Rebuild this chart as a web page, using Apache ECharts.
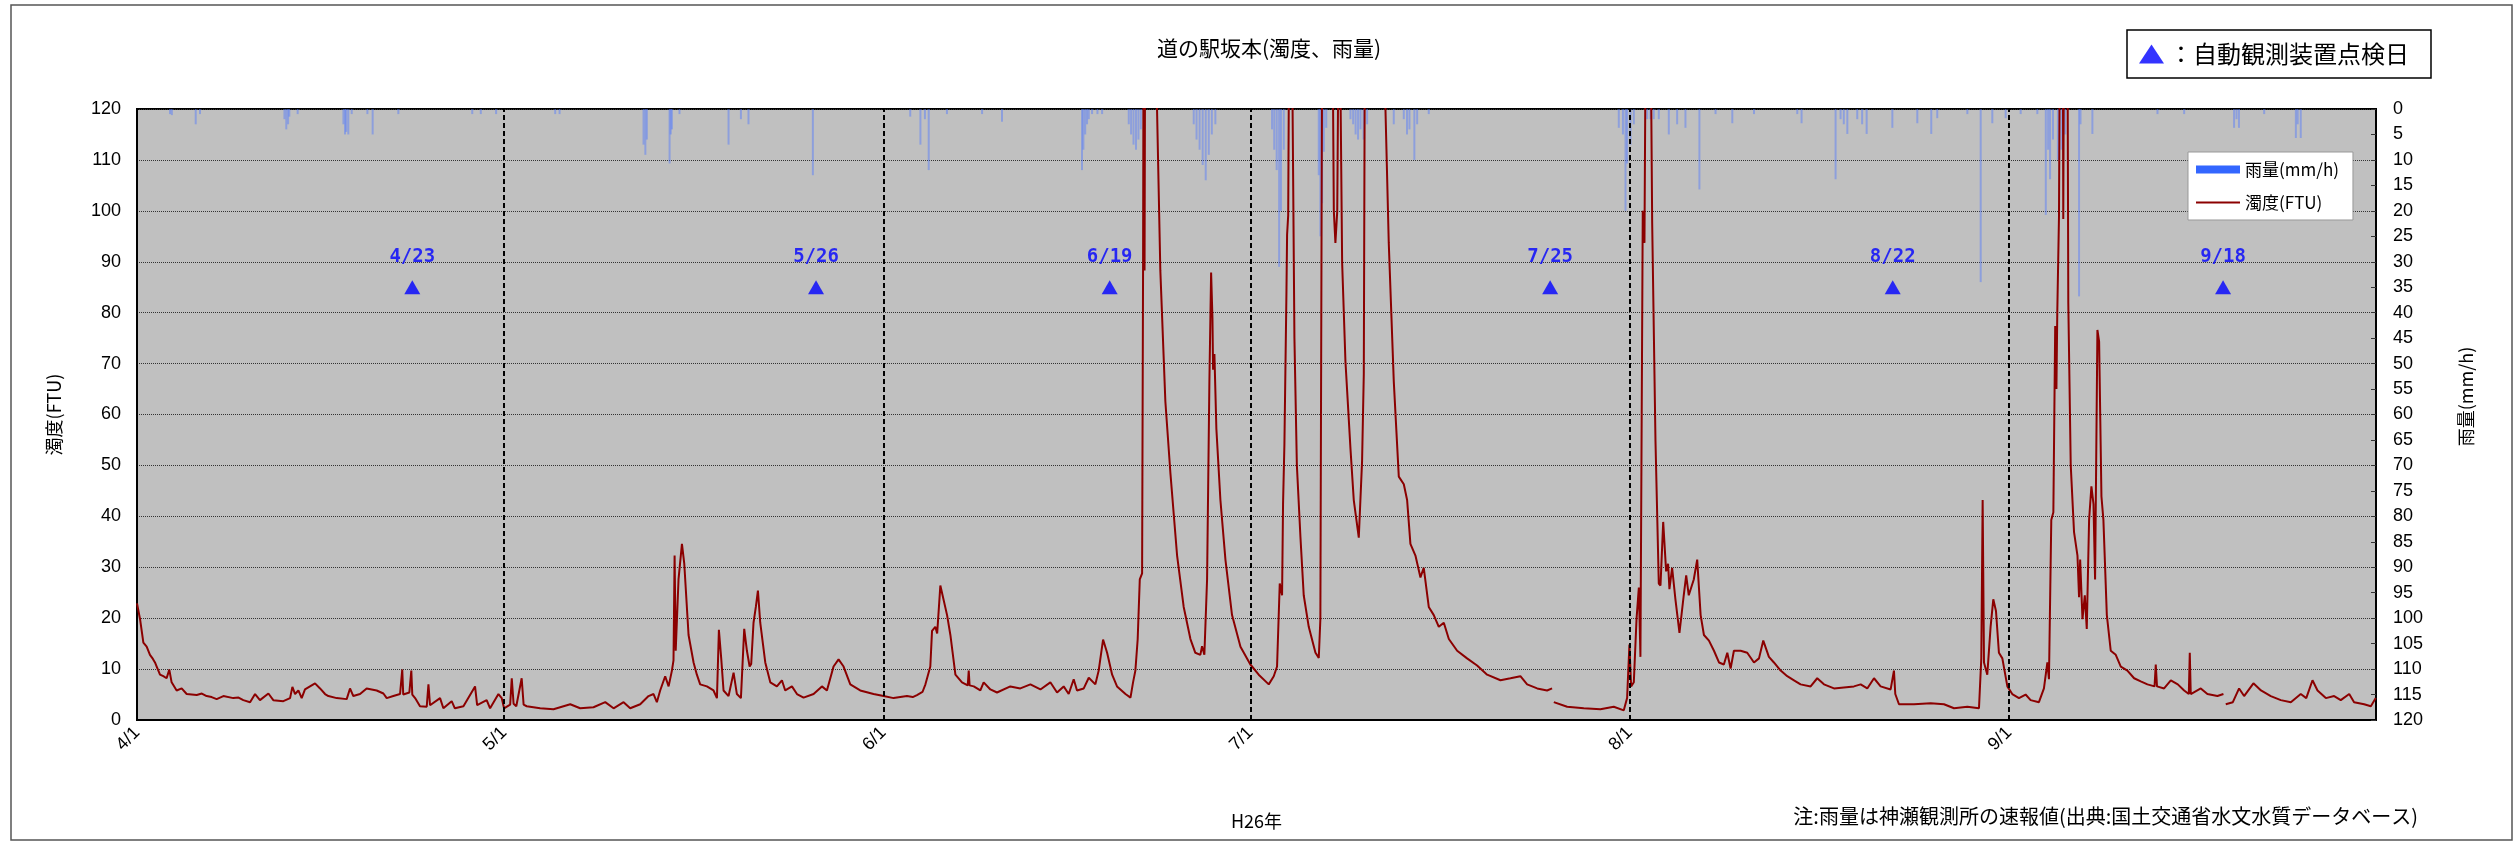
<!DOCTYPE html>
<html><head><meta charset="utf-8">
<script src="https://cdn.jsdelivr.net/npm/echarts@6/dist/echarts.min.js"></script>
<style>html,body{margin:0;padding:0;background:#fff}#c{width:2520px;height:842px}</style>
</head><body><div id="c"></div>
<script>
// x values are days since 4/1 (H26)
const monthTickDays = [0, 30, 61, 91, 122, 153];
const monthTickLabels = ['4/1', '5/1', '6/1', '7/1', '8/1', '9/1'];
const monthLineDays = [30, 61, 91, 122, 153];
const inspectionDays = [22.5, 55.5, 79.5, 115.5, 143.5, 170.5];
const inspectionLabels = ['4/23', '5/26', '6/19', '7/25', '8/22', '9/18'];
const inspectionLevel = 85;

// turbidity (FTU): [day, value]
const turbidity = [
[0,22.9],[0.25,19.8],[0.52,15.2],[0.79,14.4],[1.06,12.8],[1.3,12.0],[1.47,11.3],[1.61,10.5],[1.88,8.9],[2.15,8.6],[2.42,8.2],[2.64,9.9],[2.83,7.4],
[3.24,5.8],[3.65,6.2],[4.06,5.1],[4.88,4.9],[5.3,5.2],[5.69,4.7],[6.1,4.5],[6.51,4.1],[7.06,4.7],[7.87,4.3],[8.3,4.4],[8.69,3.9],[9.24,3.5],[9.65,5.1],
[10.05,3.9],[10.74,5.2],[11.14,3.9],[11.96,3.7],[12.51,4.3],[12.70,6.5],[12.92,5.1],[13.19,5.8],[13.46,4.3],[13.73,6.0],[14.14,6.6],[14.55,7.2],[14.96,6.2],
[15.37,5.1],[15.64,4.7],[16.32,4.3],[17.14,4.1],[17.41,6.2],[17.68,4.7],[18.23,5.1],[18.77,6.2],[19.59,5.8],[20.14,5.2],[20.41,4.3],[20.95,4.7],[21.50,5.1],
[21.68,9.9],[21.76,5.0],[22.26,5.4],[22.42,9.7],[22.5,5.0],[22.73,4.3],[23.13,2.7],[23.68,2.6],[23.82,7.0],[23.95,2.9],[24.09,2.7],[24.77,4.3],[25.04,2.3],
[25.72,3.7],[25.98,2.3],[26.68,2.7],[27.63,6.6],[27.80,2.9],[28.58,3.9],[28.86,2.3],[29.54,5.1],[29.81,4.3],[30.0,2.3],[30.5,3.0],[30.63,8.2],[30.78,3.2],
[31.0,2.7],[31.44,8.2],[31.6,3.0],[31.85,2.7],[32.95,2.3],[34.04,2.1],[35.41,3.1],[36.22,2.3],[37.31,2.5],[38.27,3.5],[38.95,2.3],[39.77,3.5],[40.31,2.3],
[41.13,3.1],[41.81,4.7],[42.22,5.1],[42.49,3.5],[42.76,5.8],[43.17,8.6],[43.45,6.6],[43.72,9.7],[43.85,11.7],[43.94,32.3],[44.03,13.6],[44.26,27.6],
[44.54,34.6],[44.73,30.7],[45.08,16.7],[45.49,11.3],[45.76,8.9],[46.03,7.0],[46.58,6.6],[47.12,5.8],[47.40,4.3],[47.56,17.7],[47.75,12.1],[47.94,5.8],
[48.35,4.7],[48.76,9.3],[49.03,5.1],[49.36,4.3],[49.63,17.9],[49.85,13.6],[50.07,10.5],[50.2,11.0],[50.39,19.1],[50.58,22.2],[50.75,25.4],[50.94,19.1],
[51.35,11.3],[51.76,7.4],[52.30,6.6],[52.71,7.8],[52.98,5.8],[53.53,6.6],[53.94,5.1],[54.48,4.4],[55.30,5.1],[55.98,6.6],[56.39,5.8],[56.93,10.5],
[57.34,11.9],[57.75,10.5],[58.30,7.0],[59.11,5.8],[60.20,5.1],[61.02,4.7],[61.84,4.3],[62.93,4.7],[63.4,4.5],[63.75,4.9],[64.2,5.5],[64.44,7.0],[64.84,10.5],
[64.98,17.5],[65.25,18.3],[65.4,17.0],[65.66,26.4],[66.21,20.6],[66.48,16.7],[66.89,8.9],[67.43,7.4],[67.9,6.8],[67.98,9.7],[68.05,6.8],[68.39,6.6],
[68.93,5.8],[69.20,7.4],[69.75,6.0],[70.29,5.4],[71.38,6.6],[72.20,6.2],[73.02,7.0],[73.84,6.0],[74.65,7.4],[75.20,5.4],[75.74,6.6],[76.15,5.1],[76.56,8.0],
[76.83,5.8],[77.38,6.2],[77.79,8.3],[78.33,7.0],[78.60,9.7],[78.96,15.8],[79.29,13.2],[79.70,8.9],[80.10,6.6],[80.79,5.1],[81.20,4.4],[81.41,7.4],[81.60,9.7],
[81.79,15.9],[81.96,27.6],[82.15,28.8],[82.23,89.8],[82.28,150],[82.35,88.3],[82.42,160],[83.2,140],[83.37,120],[83.64,88.3],[84.05,62.6],[84.46,48.6],
[85.01,32.3],[85.55,22.2],[86.10,15.9],[86.50,13.2],[86.91,12.8],[87.05,14.5],[87.24,12.8],[87.46,27.6],[87.65,66.5],[87.79,87.9],[87.90,78.9],[87.95,68.8],
[88.06,71.9],[88.22,57.2],[88.55,43.2],[88.96,31.5],[89.50,20.6],[90.19,14.4],[91.0,10.9],[91.68,8.9],[92.50,7.0],[92.91,8.6],[93.18,10.5],[93.40,26.8],
[93.59,24.5],[93.67,42.4],[93.78,54.0],[93.95,84.4],[94.0,95.3],[94.09,99.1],[94.20,150],[94.35,140],[94.45,120],[94.6,75],[94.8,50],[95.09,36],[95.36,24.5],
[95.77,18.3],[96.32,13.2],[96.59,12.2],[96.72,19.8],[96.86,130],[97.7,140],[97.82,100],[97.95,93.7],[98.1,100],[98.22,140],[98.36,125],[98.5,89.8],
[98.77,70.4],[99.18,53.3],[99.45,43.2],[99.86,35.8],[100.13,50.9],[100.27,68],[100.35,130],[101.5,150],[102.04,120],[102.31,93.7],[102.72,66.5],[103.13,47.8],
[103.54,46.3],[103.81,43.2],[104.08,34.6],[104.49,32.3],[104.90,28.0],[105.17,29.9],[105.58,22.2],[105.99,20.6],[106.40,18.3],[106.81,19.1],[107.22,15.9],
[107.90,13.6],[108.71,12.1],[109.53,10.7],[110.35,8.9],[111.44,7.8],[112.26,8.2],[113.07,8.6],[113.62,7.0],[114.44,6.2],[115.25,5.8],[115.66,6.2],[115.72,null],
[115.80,3.5],[116.89,2.6],[118.25,2.3],[119.61,2.1],[120.70,2.6],[121.52,1.9],[121.79,4.3],[121.98,14.8],[122.12,6.6],[122.34,7.4],[122.56,19.8],[122.75,26.0],
[122.88,12.4],[123.07,100],[123.21,93.7],[123.32,140],[123.70,140],[123.84,97.6],[124.11,54.8],[124.38,26.8],[124.52,26.4],[124.74,38.9],[124.98,29.2],
[125.14,30.7],[125.25,25.7],[125.47,29.9],[125.74,23.7],[126.07,17.1],[126.42,24.5],[126.62,28.4],[126.83,24.5],[127.24,27.6],[127.52,31.5],[127.80,20.6],
[128.07,16.7],[128.48,15.6],[128.89,13.6],[129.30,11.3],[129.70,10.9],[129.98,13.2],[130.25,10.1],[130.52,13.6],[131.07,13.6],[131.61,13.2],[132.16,11.3],
[132.57,12.1],[132.92,15.6],[133.38,12.4],[133.79,11.3],[134.34,9.7],[134.88,8.6],[135.43,7.8],[135.97,7.0],[136.79,6.6],[137.33,8.2],[137.88,7.0],[138.70,6.2],
[139.51,6.4],[140.33,6.6],[140.88,7.0],[141.42,6.2],[141.97,8.2],[142.51,6.6],[143.33,6.0],[143.60,9.7],[143.71,5.1],[144.01,3.1],[145.24,3.1],[146.60,3.3],
[147.69,3.1],[148.51,2.3],[149.60,2.6],[150.55,2.3],[150.74,12.1],[150.85,43.2],[150.96,11.3],[151.23,8.9],[151.50,18.3],[151.72,23.7],[151.94,21.4],[152.18,13.2],
[152.46,12.1],[152.87,6.6],[153.27,5.1],[153.82,4.3],[154.36,5.0],[154.77,3.9],[155.45,3.5],[155.86,6.2],[156.14,11.3],[156.27,8.0],[156.46,39.3],[156.63,40.8],
[156.78,77.4],[156.88,65],[156.95,80],[157.09,99],[157.17,140],[157.40,140],[157.44,98.4],[157.50,140],[157.78,140],[157.85,82],[158.05,50],[158.32,36.9],
[158.60,32.3],[158.73,24.1],[158.82,31.5],[159.01,19.8],[159.20,24.5],[159.36,17.9],[159.55,39.3],[159.74,45.9],[159.91,42.4],[160.04,27.6],[160.23,76.6],
[160.37,74.3],[160.56,43.9],[160.72,39.3],[161.0,20.6],[161.32,13.6],[161.73,12.8],[162.14,10.5],[162.68,9.7],[163.23,8.2],[163.77,7.6],[164.32,7.0],[164.9,6.6],
[165.0,10.9],[165.1,6.6],[165.68,6.2],[166.23,7.8],[166.8,7.0],[167.32,5.8],[167.7,5.1],[167.78,13.2],[167.86,5.1],[168.68,6.2],[169.22,5.1],[170.04,4.7],
[170.53,5.1],[170.6,null],[170.72,3.1],[171.3,3.5],[171.81,6.2],[172.22,4.7],[172.98,7.2],[173.6,5.8],[174.40,4.7],[175.22,3.9],[176.04,3.5],[176.85,5.1],
[177.3,4.3],[177.81,7.8],[178.22,5.8],[178.90,4.3],[179.58,4.7],[180.12,3.9],[180.81,5.1],[181.21,3.5],[182.03,3.1],[182.58,2.7],[182.98,4.3]
];

// hourly rainfall (mm/h): [day, value]
const rainfall = [
[2.7,1],[2.85,1.2],[4.8,3],[5.15,1],[12.05,2],[12.2,4],[12.35,3],[12.45,1.5],[13.13,1],[16.87,3],[17.0,5],[17.1,4.5],[17.27,5],[17.55,1],[18.83,1],[19.26,5],
[21.36,1],[27.4,1],[28.1,1],[29.35,1],[34.18,1],[34.54,1],[41.40,7],[41.55,9],[41.67,6],[43.53,10.7],[43.62,5],[43.72,4],[44.34,1],[48.35,7],[49.36,2],[49.98,3],
[55.24,13],[63.2,1.5],[64.03,7],[64.4,2],[64.71,12],[66.2,1],[69.07,1],[70.7,2.5],[77.24,12],[77.35,8],[77.5,5],[77.65,3],[77.79,2],[78.06,1],[78.5,1],[78.88,1],
[81.06,3],[81.25,5],[81.45,7],[81.65,8],[81.85,6],[82.05,4],[82.28,2],[86.37,3],[86.6,6],[86.85,8],[87.1,11],[87.35,14],[87.6,9],[87.85,5],[88.14,3],
[92.77,4],[92.95,8],[93.15,12],[93.35,31],[93.5,20],[93.73,8],[96.59,13],[96.72,25],[96.86,18.5],[97.0,8.4],[97.2,3.7],[99.18,2],[99.4,3],[99.6,5],[99.8,6],
[100.0,4],[100.25,6],[100.54,3],[102.72,3],[103.54,2],[103.8,5],[104.0,4],[104.4,10],[104.63,3],[105.58,1],[121.11,3.7],[121.45,5],[121.66,20],[121.79,10.7],
[122.07,7],[122.34,3],[123.43,2],[123.7,2],[123.97,2],[124.38,2],[125.2,5],[125.88,3],[126.56,3.7],[127.7,15.8],[129.02,1],[130.39,2.8],[132.16,1],[135.70,1],
[136.05,2.8],[138.83,13.8],[139.24,2],[139.5,3],[139.79,4.9],[140.6,2],[141.0,3],[141.37,4.9],[143.47,3.7],[145.51,2.8],[146.65,4.9],[147.14,1.8],[149.6,1],
[150.69,34],[151.64,2.8],[152.73,1.8],[153.96,1],[155.32,1],[156.01,20.8],[156.2,8],[156.36,13.8],[156.6,6],[157.0,10],[157.3,8],[157.6,5],[158.73,36.8],
[158.85,3],[159.82,4.9],[165.14,1],[167.32,1],[171.4,3.7],[171.6,2],[171.8,3.7],[173.86,1],[176.45,5.7],[176.6,3],[176.85,5.7]
];

const JP = "'Noto Sans CJK JP', sans-serif";
const NUM = "'Liberation Sans', Arial, sans-serif";
const chart = echarts.init(document.getElementById('c'));
chart.setOption({
  backgroundColor: '#fff',
  animation: false,
  title: [
    {text: '道の駅坂本(濁度、雨量)', left: 1157, top: 38, padding: 0,
     textStyle: {fontFamily: JP, fontSize: 21, fontWeight: 'normal', color: '#000'}},
    {text: '注:雨量は神瀬観測所の速報値(出典:国土交通省水文水質データベース)', right: 102, top: 806, padding: 0,
     textStyle: {fontFamily: JP, fontSize: 20, fontWeight: 'normal', color: '#000'}}
  ],
  legend: [
    {data: [{name: '雨量(mm/h)', icon: 'rect', itemStyle: {color: '#3366ff', opacity: 1}},
            {name: '濁度(FTU)', itemStyle: {opacity: 0}, lineStyle: {color: '#8b0000', width: 2}}],
     orient: 'vertical', left: 2188, top: 152, padding: [9, 14, 9, 7], itemWidth: 44, itemHeight: 8, itemGap: 16,
     backgroundColor: '#fff', borderColor: '#999', borderWidth: 1,
     textStyle: {fontFamily: JP, fontSize: 17, color: '#000'}},
    {data: ['：自動観測装置点検日'], left: 2127, top: 30, padding: [12, 22, 12, 12], itemWidth: 25, itemHeight: 19,
     backgroundColor: '#fff', borderColor: '#000', borderWidth: 1.5,
     textStyle: {fontFamily: JP, fontSize: 24, color: '#000'}}
  ],
  graphic: [
    {type: 'rect', silent: true, shape: {x: 11, y: 5, width: 2501, height: 835},
     style: {fill: 'none', stroke: '#555', lineWidth: 1.5}}
  ],
  grid: {left: 137, top: 109, right: 144, bottom: 122, show: true, backgroundColor: '#c0c0c0', borderColor: '#000', borderWidth: 2},
  xAxis: {
    type: 'value', min: 0, max: 183,
    axisLine: {show: true, onZero: false, lineStyle: {color: '#000', width: 2}},
    axisTick: {show: false}, splitLine: {show: false},
    axisLabel: {customValues: monthTickDays, formatter: v => { const i = monthTickDays.indexOf(v); return i >= 0 ? monthTickLabels[i] : ''; },
      rotate: 45, fontFamily: NUM, fontSize: 18, color: '#000', margin: 10},
    name: 'H26年', nameLocation: 'middle', nameGap: 92,
    nameTextStyle: {fontFamily: JP, fontSize: 18, color: '#000'}
  },
  yAxis: [
    {type: 'value', min: 0, max: 120, interval: 10, position: 'left',
     axisLine: {show: true, lineStyle: {color: '#000', width: 2}}, axisTick: {show: false},
     splitLine: {show: true, lineStyle: {color: '#333', type: 'dotted', width: 1}},
     axisLabel: {fontFamily: NUM, fontSize: 18, color: '#000', margin: 16},
     name: '濁度(FTU)', nameLocation: 'middle', nameGap: 74, nameRotate: 90,
     nameTextStyle: {fontFamily: JP, fontSize: 18, color: '#000'}},
    {type: 'value', min: 0, max: 120, interval: 5, inverse: true, position: 'right',
     axisLine: {show: true, lineStyle: {color: '#000', width: 2}},
     axisTick: {show: true, inside: true, length: 5, lineStyle: {color: '#333'}},
     splitLine: {show: false},
     axisLabel: {fontFamily: NUM, fontSize: 18, color: '#000', margin: 17},
     name: '雨量(mm/h)', nameLocation: 'middle', nameGap: 81, nameRotate: 90,
     nameTextStyle: {fontFamily: JP, fontSize: 18, color: '#000', padding: [0, 0, 0, 36]}}
  ],
  series: [
    {name: '雨量(mm/h)', type: 'bar', xAxisIndex: 0, yAxisIndex: 1, data: rainfall, barWidth: 2,
     itemStyle: {color: 'rgba(80,120,255,0.45)'}, z: 2},
    {name: 'months', type: 'line', data: [], z: 3, silent: true,
     markLine: {silent: true, symbol: 'none', label: {show: false},
       lineStyle: {color: '#000', type: [5, 3], width: 2},
       data: monthLineDays.map(d => ({xAxis: d}))}},
    {name: '濁度(FTU)', type: 'line', yAxisIndex: 0, data: turbidity, symbol: 'none', showSymbol: false,
     connectNulls: false, lineStyle: {color: '#8b0000', width: 2}, itemStyle: {color: '#8b0000'}, z: 4},
    {name: '：自動観測装置点検日', type: 'scatter', yAxisIndex: 0,
     data: inspectionDays.map(d => [d, inspectionLevel]),
     symbol: 'triangle', symbolSize: [16, 14], itemStyle: {color: '#0000ff'}, z: 5,
     label: {show: true, position: 'top', distance: 14, formatter: p => inspectionLabels[p.dataIndex],
       color: '#0000ff', fontFamily: "'DejaVu Sans Mono', monospace", fontWeight: 'bold', fontSize: 19}}
  ]
});
</script></body></html>
